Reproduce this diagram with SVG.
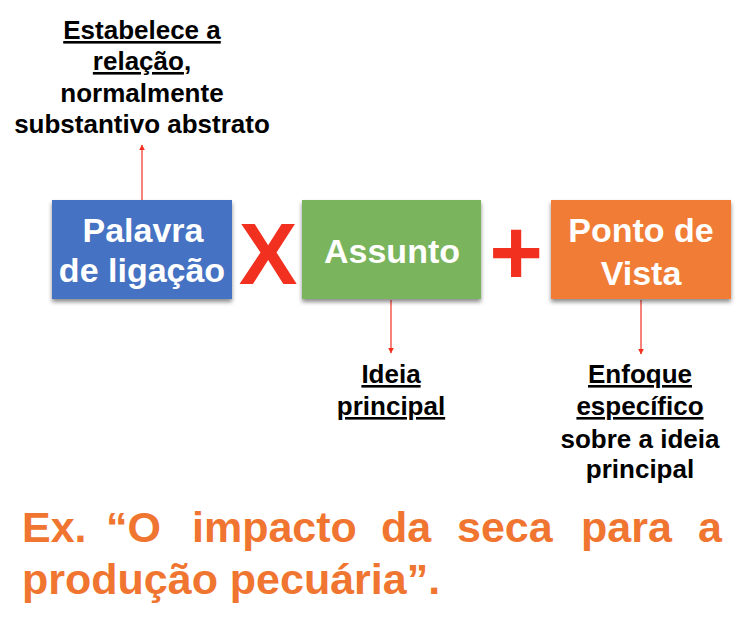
<svg xmlns="http://www.w3.org/2000/svg" width="750" height="634" viewBox="0 0 750 634">
  <style>
    .lbl { font-family: "Liberation Sans", Arial, sans-serif; font-weight: bold; font-size: 26px; fill: #000; text-anchor: middle; }
    .u { text-decoration: underline; }
    .box { font-family: "Liberation Sans", Arial, sans-serif; font-weight: bold; font-size: 34px; fill: #fff; text-anchor: middle; }
    .op { font-family: "Liberation Sans", Arial, sans-serif; font-weight: bold; fill: #f2301f; text-anchor: middle; }
    .ex { font-family: "Liberation Sans", Arial, sans-serif; font-weight: bold; font-size: 43px; fill: #ef7530; }
    .conn { stroke: #f2301f; stroke-width: 1.2; fill: none; marker-end: url(#arr); }
  </style>
  <defs>
    <marker id="arr" viewBox="0 0 10 10" refX="9" refY="5" markerWidth="6" markerHeight="6" markerUnits="userSpaceOnUse" orient="auto">
      <path d="M0,0 L10,5 L0,10 z" fill="#f2301f"/>
    </marker>
    <filter id="sh" x="-10%" y="-10%" width="120%" height="130%">
      <feDropShadow dx="0" dy="3" stdDeviation="2" flood-color="#000" flood-opacity="0.45"/>
    </filter>
  </defs>
  <rect width="750" height="634" fill="#fff"/>

  <g id="connectors">
    <line class="conn" x1="142" y1="200" x2="142" y2="145"/>
    <line class="conn" x1="391" y1="300" x2="391" y2="353"/>
    <line class="conn" x1="641" y1="300" x2="641" y2="354"/>
  </g>

  <g id="node-palavra">
    <rect x="52" y="200" width="180" height="99" fill="#4572c2" filter="url(#sh)"/>
    <text class="box" x="143" y="242">Palavra</text>
    <text class="box" x="142" y="282">de ligação</text>
  </g>

  <g id="op-x">
    <text class="op" x="268" y="284" font-size="88">X</text>
  </g>

  <g id="node-assunto">
    <rect x="302" y="200" width="179" height="99" fill="#7ab45b" filter="url(#sh)"/>
    <text class="box" x="392" y="263">Assunto</text>
  </g>

  <g id="op-plus">
    <text class="op" x="516" y="284" font-size="92">+</text>
  </g>

  <g id="node-ponto">
    <rect x="551" y="200" width="180" height="99" fill="#f07b35" filter="url(#sh)"/>
    <text class="box" x="641" y="242">Ponto de</text>
    <text class="box" x="641" y="285">Vista</text>
  </g>

  <g id="label-top">
    <text class="lbl" x="142" y="39"><tspan class="u">Estabelece a</tspan></text>
    <text class="lbl" x="142" y="70"><tspan class="u">relação</tspan>,</text>
    <text class="lbl" x="142" y="102">normalmente</text>
    <text class="lbl" x="142" y="133">substantivo abstrato</text>
  </g>

  <g id="label-ideia">
    <text class="lbl" x="391" y="383"><tspan class="u">Ideia</tspan></text>
    <text class="lbl" x="391" y="415"><tspan class="u">principal</tspan></text>
  </g>

  <g id="label-enfoque">
    <text class="lbl" x="640" y="383"><tspan class="u">Enfoque</tspan></text>
    <text class="lbl" x="640" y="415"><tspan class="u">específico</tspan></text>
    <text class="lbl" x="640" y="448">sobre a ideia</text>
    <text class="lbl" x="640" y="478">principal</text>
  </g>

  <g id="example">
    <text class="ex" y="542"><tspan x="22">Ex.</tspan> <tspan x="106">“O</tspan> <tspan x="192">impacto</tspan> <tspan x="381">da</tspan> <tspan x="457">seca</tspan> <tspan x="581">para</tspan> <tspan x="698">a</tspan></text>
    <text class="ex" x="22" y="594">produção pecuária”.</text>
  </g>
</svg>
